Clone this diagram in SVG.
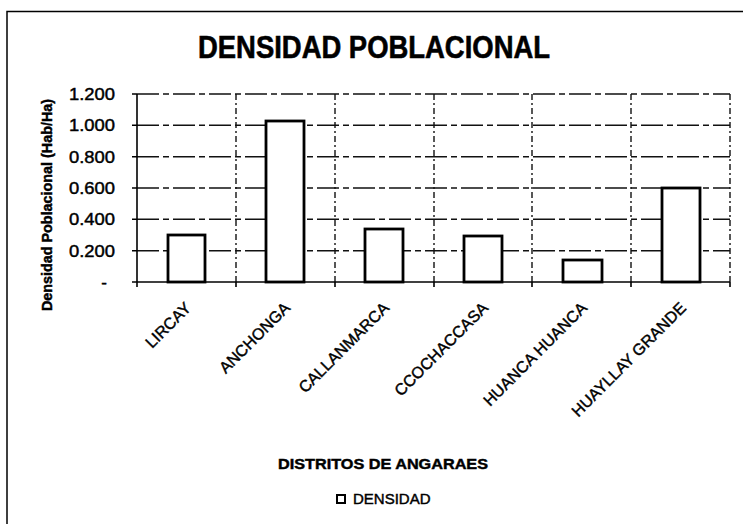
<svg xmlns="http://www.w3.org/2000/svg" width="743" height="524" viewBox="0 0 743 524">
<style>
text{font-family:"Liberation Sans",Arial,sans-serif;fill:#000;stroke:#000;stroke-width:0.45}
.title{font-size:32px;font-weight:bold;stroke-width:0.6}
.ytick{font-size:17px;text-anchor:end}
.xlab{font-size:16px;text-anchor:end}
.axt{font-size:14px;font-weight:bold;text-anchor:middle}
.hgrid{stroke:#111;stroke-width:1.4;stroke-dasharray:22 4 6 4;fill:none}
.vgrid{stroke:#111;stroke-width:1.4;stroke-dasharray:6 3 2 3;fill:none}
.axis{stroke:#000;stroke-width:1.6;fill:none}
.bar{fill:#fff;stroke:#000;stroke-width:2.8}
</style>
<rect x="0" y="0" width="743" height="524" fill="#fff"/>
<g id="frame">
<path d="M7,524 V11.5 H743" stroke="#000" stroke-width="1.5" fill="none"/>
</g>
<text class="title" x="374" y="58" text-anchor="middle" textLength="352" lengthAdjust="spacingAndGlyphs">DENSIDAD POBLACIONAL</text>
<g id="grid">
<line class="hgrid" x1="137" y1="94" x2="730" y2="94"/>
<line class="hgrid" x1="137" y1="125.3" x2="730" y2="125.3"/>
<line class="hgrid" x1="137" y1="156.7" x2="730" y2="156.7"/>
<line class="hgrid" x1="137" y1="188" x2="730" y2="188"/>
<line class="hgrid" x1="137" y1="219.3" x2="730" y2="219.3"/>
<line class="hgrid" x1="137" y1="250.7" x2="730" y2="250.7"/>
<line class="vgrid" x1="236" y1="94" x2="236" y2="282"/>
<line class="vgrid" x1="335" y1="94" x2="335" y2="282"/>
<line class="vgrid" x1="434" y1="94" x2="434" y2="282"/>
<line class="vgrid" x1="532" y1="94" x2="532" y2="282"/>
<line class="vgrid" x1="631" y1="94" x2="631" y2="282"/>
<line class="vgrid" x1="730" y1="94" x2="730" y2="282"/>
</g>
<g id="axes">
<line class="axis" x1="137" y1="94" x2="137" y2="282"/>
<line class="axis" x1="132" y1="282" x2="730" y2="282"/>
<path class="axis" d="M132,94H137M132,125.3H137M132,156.7H137M132,188H137M132,219.3H137M132,250.7H137M137,282V287M236,282V287M335,282V287M434,282V287M532,282V287M631,282V287M730,282V287"/>
</g>
<g id="yticks">
<text class="ytick" x="115" y="100" textLength="46" lengthAdjust="spacingAndGlyphs">1.200</text>
<text class="ytick" x="115" y="131.3" textLength="46" lengthAdjust="spacingAndGlyphs">1.000</text>
<text class="ytick" x="115" y="162.7" textLength="46" lengthAdjust="spacingAndGlyphs">0.800</text>
<text class="ytick" x="115" y="194" textLength="46" lengthAdjust="spacingAndGlyphs">0.600</text>
<text class="ytick" x="115" y="225.3" textLength="46" lengthAdjust="spacingAndGlyphs">0.400</text>
<text class="ytick" x="115" y="256.7" textLength="46" lengthAdjust="spacingAndGlyphs">0.200</text>
<text class="ytick" x="107" y="288">-</text>
</g>
<g id="bars">
<g id="bar-lircay"><rect class="bar" x="168" y="235" width="37" height="47"/></g>
<g id="bar-anchonga"><rect class="bar" x="266" y="121" width="38" height="161"/></g>
<g id="bar-callanmarca"><rect class="bar" x="365" y="229" width="38" height="53"/></g>
<g id="bar-ccochaccasa"><rect class="bar" x="464" y="236" width="38" height="46"/></g>
<g id="bar-huanca"><rect class="bar" x="563" y="260" width="39" height="22"/></g>
<g id="bar-huayllay"><rect class="bar" x="662" y="188" width="38" height="94"/></g>
</g>
<g id="xlabels">
<text class="xlab" transform="translate(192,309) rotate(-45)">LIRCAY</text>
<text class="xlab" transform="translate(291,309) rotate(-45)">ANCHONGA</text>
<text class="xlab" transform="translate(390,309) rotate(-45)">CALLANMARCA</text>
<text class="xlab" transform="translate(489,309) rotate(-45)">CCOCHACCASA</text>
<text class="xlab" transform="translate(588,309) rotate(-45)">HUANCA HUANCA</text>
<text class="xlab" transform="translate(687,309) rotate(-45)">HUAYLLAY GRANDE</text>
</g>
<text class="axt" transform="translate(52,205) rotate(-90)" style="font-size:15px" textLength="212" lengthAdjust="spacingAndGlyphs">Densidad Poblacional (Hab/Ha)</text>
<text class="axt" x="383" y="469" style="font-size:15px" textLength="210" lengthAdjust="spacingAndGlyphs">DISTRITOS DE ANGARAES</text>
<g id="legend">
<rect x="337" y="495" width="8" height="8" fill="#fff" stroke="#000" stroke-width="2"/>
<text x="353" y="504" style="font-size:15px">DENSIDAD</text>
</g>
</svg>
